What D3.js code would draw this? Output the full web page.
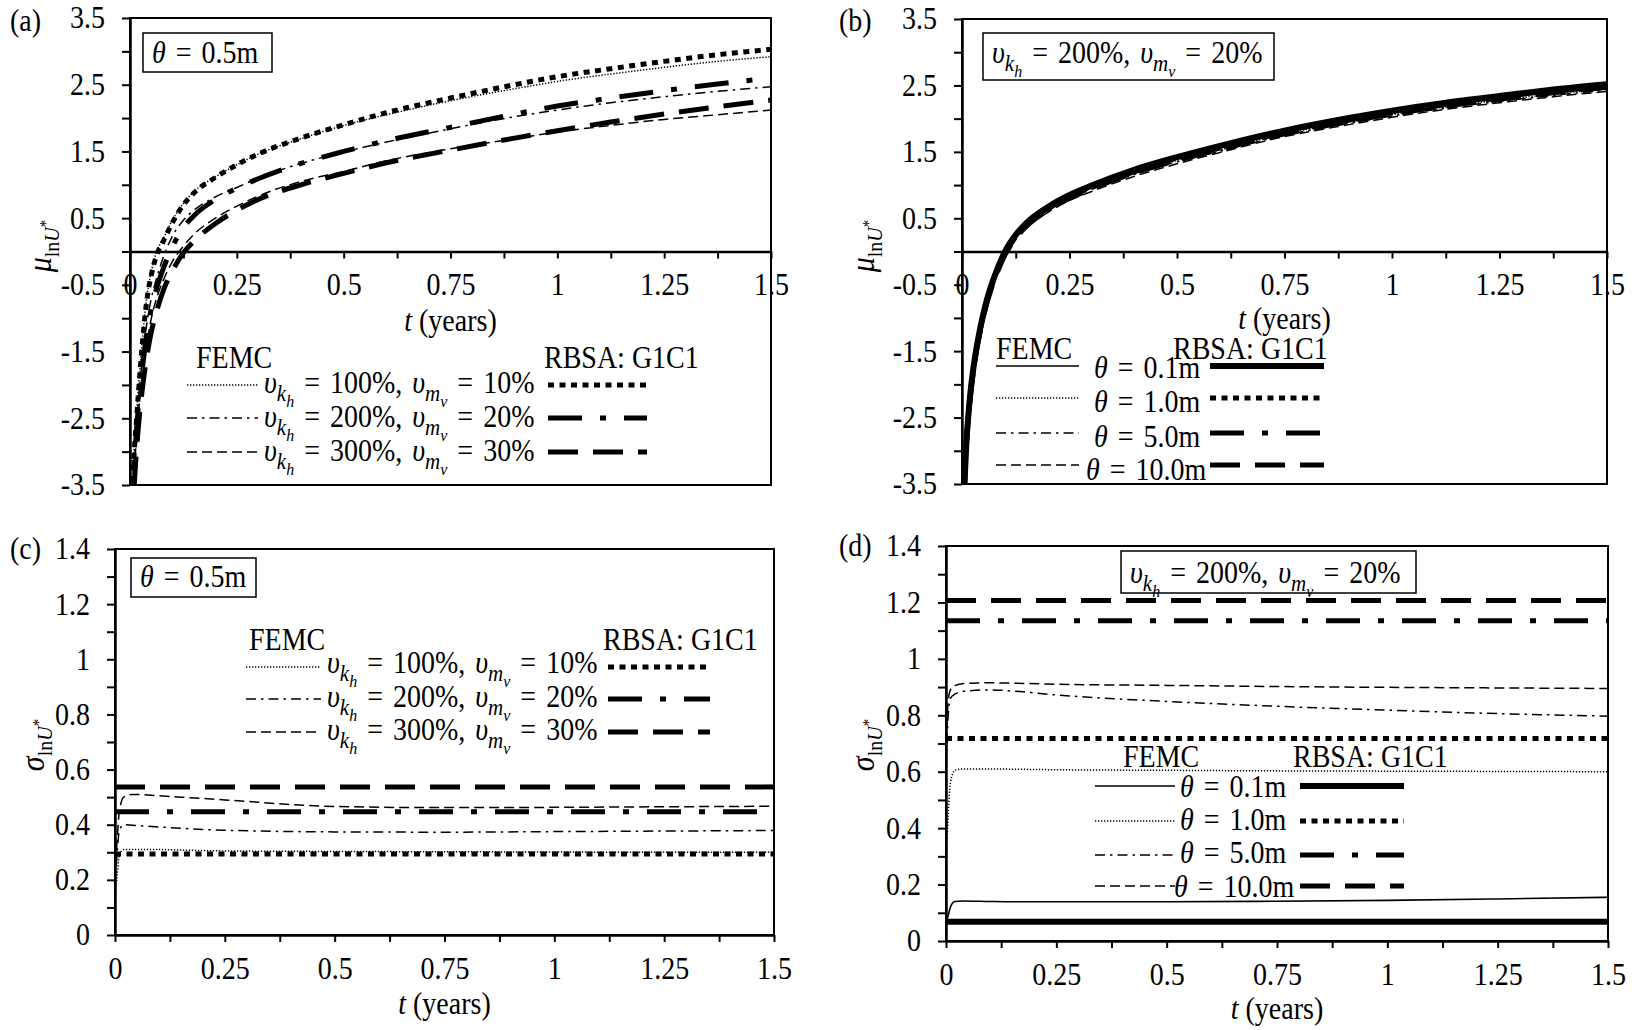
<!DOCTYPE html>
<html>
<head>
<meta charset="utf-8">
<script src="https://cdn.jsdelivr.net/npm/d3@7"></script>
<style>
body { margin: 0; background: #fff; }
svg text { font-family: "Liberation Serif", "Times New Roman", serif; fill: #000; white-space: pre; }
</style>
</head>
<body>
<svg id="chart" width="1632" height="1030"></svg>
<script>
// ---- axis ticks ----
const muTicks = [-3.5, -3, -2.5, -2, -1.5, -1, -0.5, 0, 0.5, 1, 1.5, 2, 2.5, 3, 3.5];
const muLabels = [-3.5, -2.5, -1.5, -0.5, 0.5, 1.5, 2.5, 3.5];
const sigmaTicks = [0, 0.1, 0.2, 0.3, 0.4, 0.5, 0.6, 0.7, 0.8, 0.9, 1, 1.1, 1.2, 1.3, 1.4];
const sigmaLabels = [0, 0.2, 0.4, 0.6, 0.8, 1, 1.2, 1.4];
const tTicks = [0, 0.125, 0.25, 0.375, 0.5, 0.625, 0.75, 0.875, 1, 1.125, 1.25, 1.375, 1.5];
const tLabels = [0, 0.25, 0.5, 0.75, 1, 1.25, 1.5];

// ---- legend labels ----
const covLabels = [["100", "10"], ["200", "20"], ["300", "30"]];
const thetaLabels = ["0.1", "1.0", "5.0", "10.0"];

// ---- (a) and (b): mean of ln U*, time grid in years ----
const tAB = [0.005, 0.01, 0.015, 0.02, 0.03, 0.04, 0.05, 0.06, 0.08, 0.1, 0.125, 0.15, 0.2, 0.25, 0.3, 0.4, 0.5, 0.6, 0.75, 0.9, 1.0, 1.125, 1.25, 1.375, 1.5];

const aFemc100 = [-3.7, -2.9, -2.45, -2.0, -1.25, -0.65, -0.3, -0.05, 0.22, 0.48, 0.72, 0.9, 1.12, 1.3, 1.46, 1.69, 1.89, 2.05, 2.26, 2.44, 2.55, 2.66, 2.76, 2.85, 2.92];
const aFemc200 = [-3.9, -3.1, -2.6, -2.2, -1.55, -1.05, -0.7, -0.45, -0.05, 0.24, 0.47, 0.62, 0.82, 0.96, 1.1, 1.32, 1.49, 1.64, 1.84, 2.02, 2.12, 2.23, 2.32, 2.4, 2.47];
const aFemc300 = [-4.0, -3.3, -2.8, -2.4, -1.8, -1.35, -1.0, -0.75, -0.4, -0.14, 0.08, 0.26, 0.5, 0.68, 0.83, 1.05, 1.2, 1.36, 1.54, 1.69, 1.79, 1.89, 1.98, 2.05, 2.12];
const aRbsa100 = [-3.8, -3.0, -2.55, -2.1, -1.3, -0.7, -0.35, -0.1, 0.18, 0.44, 0.7, 0.88, 1.11, 1.3, 1.46, 1.7, 1.9, 2.08, 2.3, 2.5, 2.62, 2.74, 2.85, 2.95, 3.03];
const aRbsa200 = [-4.0, -3.2, -2.7, -2.3, -1.7, -1.2, -0.85, -0.6, -0.22, 0.08, 0.36, 0.54, 0.78, 0.95, 1.09, 1.32, 1.5, 1.66, 1.86, 2.06, 2.18, 2.3, 2.41, 2.51, 2.6];
const aRbsa300 = [-4.2, -3.5, -3.0, -2.6, -2.0, -1.55, -1.2, -0.95, -0.55, -0.28, -0.02, 0.16, 0.42, 0.62, 0.78, 1.0, 1.17, 1.33, 1.52, 1.7, 1.81, 1.94, 2.06, 2.17, 2.27];

const bFemc01 = [-3.55, -2.85, -2.4, -2.05, -1.55, -1.18, -0.88, -0.63, -0.26, 0.03, 0.27, 0.44, 0.67, 0.84, 0.98, 1.21, 1.4, 1.56, 1.79, 1.97, 2.08, 2.2, 2.3, 2.4, 2.48];
const bFemc10 = [-3.6, -2.9, -2.45, -2.1, -1.59, -1.22, -0.92, -0.67, -0.3, -0.01, 0.23, 0.4, 0.63, 0.81, 0.95, 1.18, 1.37, 1.53, 1.77, 1.95, 2.06, 2.18, 2.28, 2.37, 2.45];
const bFemc50 = [-3.6, -2.9, -2.46, -2.11, -1.6, -1.23, -0.93, -0.68, -0.31, -0.02, 0.22, 0.39, 0.62, 0.8, 0.93, 1.16, 1.35, 1.51, 1.75, 1.93, 2.04, 2.16, 2.26, 2.35, 2.43];
const bFemc100 = [-3.65, -2.95, -2.5, -2.15, -1.63, -1.26, -0.96, -0.71, -0.34, -0.05, 0.19, 0.36, 0.59, 0.77, 0.9, 1.13, 1.32, 1.49, 1.73, 1.91, 2.02, 2.14, 2.24, 2.33, 2.41];
const bRbsa01 = [-3.6, -2.9, -2.45, -2.1, -1.6, -1.23, -0.93, -0.68, -0.3, 0.0, 0.25, 0.43, 0.67, 0.85, 0.99, 1.23, 1.42, 1.59, 1.82, 2.01, 2.12, 2.24, 2.34, 2.44, 2.52];
const bRbsa10 = [-3.6, -2.9, -2.45, -2.11, -1.61, -1.24, -0.94, -0.69, -0.31, -0.01, 0.24, 0.42, 0.66, 0.84, 0.98, 1.22, 1.41, 1.58, 1.81, 2.0, 2.11, 2.23, 2.33, 2.43, 2.51];
const bRbsa50 = [-3.62, -2.92, -2.47, -2.13, -1.63, -1.26, -0.96, -0.71, -0.33, -0.03, 0.22, 0.4, 0.64, 0.82, 0.96, 1.2, 1.39, 1.56, 1.79, 1.98, 2.09, 2.21, 2.31, 2.41, 2.49];
const bRbsa100 = [-3.64, -2.94, -2.49, -2.15, -1.65, -1.28, -0.98, -0.73, -0.35, -0.05, 0.2, 0.38, 0.62, 0.8, 0.94, 1.18, 1.37, 1.54, 1.77, 1.96, 2.07, 2.19, 2.29, 2.39, 2.47];

// ---- (c) and (d): standard deviation of ln U* ----
const tCD = [0, 0.005, 0.01, 0.02, 0.04, 0.1, 0.15, 0.25, 0.5, 0.75, 1.0, 1.25, 1.5];
const tFlat = [0, 1.5];

const cFemc100 = [0.14, 0.22, 0.29, 0.31, 0.31, 0.31, 0.308, 0.305, 0.303, 0.302, 0.301, 0.3, 0.3];
const cFemc200 = [0.17, 0.3, 0.38, 0.4, 0.398, 0.392, 0.387, 0.38, 0.374, 0.373, 0.375, 0.377, 0.379];
const cFemc300 = [0.2, 0.35, 0.45, 0.5, 0.51, 0.505, 0.5, 0.49, 0.466, 0.462, 0.463, 0.465, 0.467];
const cRbsa100 = [0.294, 0.294];
const cRbsa200 = [0.447, 0.447];
const cRbsa300 = [0.537, 0.537];

const dFemc01 = [0.065, 0.09, 0.12, 0.14, 0.142, 0.14, 0.139, 0.139, 0.139, 0.141, 0.144, 0.149, 0.155];
const dFemc10 = [0.28, 0.45, 0.56, 0.605, 0.61, 0.61, 0.609, 0.607, 0.605, 0.603, 0.602, 0.601, 0.6];
const dFemc50 = [0.62, 0.8, 0.86, 0.875, 0.885, 0.89, 0.886, 0.872, 0.849, 0.832, 0.818, 0.806, 0.797];
const dFemc100 = [0.7, 0.85, 0.89, 0.905, 0.913, 0.915, 0.914, 0.91, 0.906, 0.902, 0.899, 0.897, 0.895];
const dRbsa01 = [0.068, 0.068];
const dRbsa10 = [0.718, 0.718];
const dRbsa50 = [1.135, 1.135];
const dRbsa100 = [1.207, 1.207];

// line looks, thin = FEMC, thick = RBSA
const styles = {
    femcSolid: { w: 1.6, dash: null },
    femcDot: { w: 1.5, dash: "1.3,1.7" },
    femcDashDot: { w: 1.5, dash: "10,5,2.5,5" },
    femcDash: { w: 1.5, dash: "10,5" },
    rbsaSolid: { w: 6, dash: null },
    rbsaDot: { w: 5, dash: "6,5.5" },
    rbsaDashDot: { w: 5, dash: "34,18,6,18" },
    rbsaDash: { w: 5, dash: "30,15" }
};

const svg = d3.select("#chart");
const FS = 28;
const STRETCH = 1.1; // the source lettering is a little taller than it is wide

// text made of parts: {t, size, it, shift}
function rich(parent, x, y, parts, anchor, rotate) {
    const text = parent.append("text")
        .attr("x", x)
        .attr("y", y)
        .attr("font-size", FS);
    if (anchor) text.attr("text-anchor", anchor);
    if (rotate) text.attr("transform", `rotate(-90, ${x}, ${y})`);
    let shift = 0;
    parts.forEach(pt => {
        const s = pt.shift || 0;
        const ts = text.append("tspan").text(pt.t).attr("font-size", pt.size || FS);
        if (s !== shift) ts.attr("dy", s - shift);
        if (pt.it) ts.attr("font-style", "italic");
        if (pt.ws) ts.attr("word-spacing", pt.ws);
        shift = s;
    });
    return text;
}

const upsilon = (a, b) => [
    { t: "υ", it: true },
    { t: a, it: true, size: 21, shift: 7 },
    { t: b, it: true, size: 16, shift: 13 }
];
const covText = (kh, mv) => [
    ...upsilon("k", "h"), { t: ` = ${kh}%, `, ws: 3 },
    ...upsilon("m", "v"), { t: ` = ${mv}%`, ws: 3 }
];
const thetaText = v => [{ t: "θ", it: true }, { t: ` = ${v}m`, ws: 3 }];
const yTitle = sym => [
    { t: sym, it: true, size: 30 },
    { t: "ln", size: 20, shift: 7 },
    { t: "U", it: true, size: 20, shift: 7 },
    { t: "*", size: 15, shift: 0 }
];

function drawPanel(p) {
    const x = d3.scaleLinear().domain([0, 1.5]).range([p.left, p.right]);
    const y = d3.scaleLinear().domain(p.yDomain).range([p.bottom, p.top]);
    const g = svg.append("g");

    g.append("clipPath").attr("id", "clip-" + p.id)
        .append("rect")
        .attr("x", p.left).attr("y", p.top)
        .attr("width", p.right - p.left).attr("height", p.bottom - p.top);

    const line = d3.line()
        .x(d => x(d[0]))
        .y(d => y(d[1]))
        .curve(d3.curveMonotoneX);

    p.series.forEach(s => {
        const st = styles[s.style];
        g.append("path")
            .attr("clip-path", `url(#clip-${p.id})`)
            .attr("d", line(s.t.map((t, i) => [t, s.v[i]])))
            .attr("fill", "none")
            .attr("stroke", "#000")
            .attr("stroke-width", st.w)
            .attr("stroke-dasharray", st.dash);
    });

    // frame
    g.append("rect")
        .attr("x", p.left).attr("y", p.top)
        .attr("width", p.right - p.left).attr("height", p.bottom - p.top)
        .attr("fill", "none").attr("stroke", "#000").attr("stroke-width", 2);

    const yAxis = d3.axisLeft(y)
        .tickValues(p.yTicks)
        .tickSize(8).tickSizeOuter(0).tickPadding(17)
        .tickFormat(v => p.yLabels.includes(v) ? String(v) : "");
    const ya = g.append("g").attr("transform", `translate(${p.left},0)`).call(yAxis);

    const xAxis = d3.axisBottom(x)
        .tickValues(tTicks)
        .tickSize(7).tickSizeOuter(0)
        .tickFormat(v => tLabels.includes(v) ? String(v) : "");
    const xa = g.append("g").attr("transform", `translate(0,${y(p.xAt)})`).call(xAxis);
    xa.selectAll(".tick text").attr("y", 44).attr("dy", null);

    [ya, xa].forEach(a => {
        a.attr("font-family", null).attr("font-size", FS);
        a.select(".domain").attr("stroke-width", 2.5);
        a.selectAll(".tick line").attr("stroke-width", 2);
    });

    rich(g, (p.left + p.right) / 2, p.xTitleY, [{ t: "t", it: true }, { t: " (years)" }], "middle");
    rich(g, p.yTitleX, p.yTitleY, yTitle(p.sym), "middle", true);
    g.append("text").attr("x", p.tagX).attr("y", p.tagY).attr("font-size", FS).text(p.tag);

    // annotation box
    g.append("rect")
        .attr("x", p.box[0]).attr("y", p.box[1])
        .attr("width", p.box[2] - p.box[0]).attr("height", p.box[3] - p.box[1])
        .attr("fill", "#fff").attr("stroke", "#000").attr("stroke-width", 1.5);
    rich(g, p.box[0] + 9, p.boxY, p.boxText);

    // legend
    const L = p.legend;
    g.append("text").attr("x", L.femcX).attr("y", L.headY).attr("font-size", FS).text("FEMC");
    g.append("text").attr("x", L.rbsaX).attr("y", L.headY).attr("font-size", FS).text("RBSA: G1C1");
    L.rows.forEach((r, i) => {
        const ts = styles[r.thin], tk = styles[r.thick];
        g.append("line")
            .attr("x1", L.thin[0]).attr("x2", L.thin[1])
            .attr("y1", L.lineY[i]).attr("y2", L.lineY[i])
            .attr("stroke", "#000").attr("stroke-width", ts.w).attr("stroke-dasharray", ts.dash);
        g.append("line")
            .attr("x1", L.thick[0]).attr("x2", L.thick[1])
            .attr("y1", L.lineY[i]).attr("y2", L.lineY[i])
            .attr("stroke", "#000").attr("stroke-width", tk.w).attr("stroke-dasharray", tk.dash);
        rich(g, L.textX[i], L.textY[i], r.label);
    });
}

const covRows = [
    { thin: "femcDot", thick: "rbsaDot", label: covText(...covLabels[0]) },
    { thin: "femcDashDot", thick: "rbsaDashDot", label: covText(...covLabels[1]) },
    { thin: "femcDash", thick: "rbsaDash", label: covText(...covLabels[2]) }
];
const thetaRows = [
    { thin: "femcSolid", thick: "rbsaSolid", label: thetaText(thetaLabels[0]) },
    { thin: "femcDot", thick: "rbsaDot", label: thetaText(thetaLabels[1]) },
    { thin: "femcDashDot", thick: "rbsaDashDot", label: thetaText(thetaLabels[2]) },
    { thin: "femcDash", thick: "rbsaDash", label: thetaText(thetaLabels[3]) }
];

drawPanel({
    id: "a", tag: "(a)", tagX: 10, tagY: 31,
    left: 130, right: 771, top: 18, bottom: 485,
    yDomain: [-3.5, 3.5], yTicks: muTicks, yLabels: muLabels, xAt: 0,
    sym: "μ", yTitleX: 51, yTitleY: 246, xTitleY: 331,
    box: [143, 33, 272, 72], boxY: 63, boxText: thetaText("0.5"),
    series: [
        { t: tAB, v: aFemc100, style: "femcDot" },
        { t: tAB, v: aFemc200, style: "femcDashDot" },
        { t: tAB, v: aFemc300, style: "femcDash" },
        { t: tAB, v: aRbsa100, style: "rbsaDot" },
        { t: tAB, v: aRbsa200, style: "rbsaDashDot" },
        { t: tAB, v: aRbsa300, style: "rbsaDash" }
    ],
    legend: {
        femcX: 196, rbsaX: 544, headY: 368,
        thin: [187, 258], thick: [548, 647], textX: [264, 264, 264],
        lineY: [385, 418, 452], textY: [393, 427, 461], rows: covRows
    }
});

drawPanel({
    id: "b", tag: "(b)", tagX: 839, tagY: 31,
    left: 962, right: 1607, top: 19, bottom: 484,
    yDomain: [-3.5, 3.5], yTicks: muTicks, yLabels: muLabels, xAt: 0,
    sym: "μ", yTitleX: 874, yTitleY: 246, xTitleY: 329,
    box: [983, 33, 1274, 80], boxY: 63, boxText: covText("200", "20"),
    series: [
        { t: tAB, v: bFemc01, style: "femcSolid" },
        { t: tAB, v: bFemc10, style: "femcDot" },
        { t: tAB, v: bFemc50, style: "femcDashDot" },
        { t: tAB, v: bFemc100, style: "femcDash" },
        { t: tAB, v: bRbsa100, style: "rbsaDash" },
        { t: tAB, v: bRbsa50, style: "rbsaDashDot" },
        { t: tAB, v: bRbsa10, style: "rbsaDot" },
        { t: tAB, v: bRbsa01, style: "rbsaSolid" }
    ],
    legend: {
        femcX: 996, rbsaX: 1173, headY: 359,
        thin: [996, 1079], thick: [1210, 1324], textX: [1094, 1094, 1094, 1086],
        lineY: [366, 398, 433, 465], textY: [378, 412, 447, 480], rows: thetaRows
    }
});

drawPanel({
    id: "c", tag: "(c)", tagX: 10, tagY: 559,
    left: 115, right: 774, top: 549, bottom: 935,
    yDomain: [0, 1.4], yTicks: sigmaTicks, yLabels: sigmaLabels, xAt: 0,
    sym: "σ", yTitleX: 44, yTitleY: 745, xTitleY: 1014,
    box: [131, 558, 256, 597], boxY: 587, boxText: thetaText("0.5"),
    series: [
        { t: tCD, v: cFemc100, style: "femcDot" },
        { t: tCD, v: cFemc200, style: "femcDashDot" },
        { t: tCD, v: cFemc300, style: "femcDash" },
        { t: tFlat, v: cRbsa100, style: "rbsaDot" },
        { t: tFlat, v: cRbsa200, style: "rbsaDashDot" },
        { t: tFlat, v: cRbsa300, style: "rbsaDash" }
    ],
    legend: {
        femcX: 249, rbsaX: 603, headY: 650,
        thin: [246, 321], thick: [608, 710], textX: [327, 327, 327],
        lineY: [667, 699, 732], textY: [673, 707, 740], rows: covRows
    }
});

drawPanel({
    id: "d", tag: "(d)", tagX: 839, tagY: 556,
    left: 946, right: 1608, top: 546, bottom: 941,
    yDomain: [0, 1.4], yTicks: sigmaTicks, yLabels: sigmaLabels, xAt: 0,
    sym: "σ", yTitleX: 874, yTitleY: 745, xTitleY: 1019,
    box: [1121, 551, 1416, 593], boxY: 583, boxText: covText("200", "20"),
    series: [
        { t: tCD, v: dFemc01, style: "femcSolid" },
        { t: tCD, v: dFemc10, style: "femcDot" },
        { t: tCD, v: dFemc50, style: "femcDashDot" },
        { t: tCD, v: dFemc100, style: "femcDash" },
        { t: tFlat, v: dRbsa01, style: "rbsaSolid" },
        { t: tFlat, v: dRbsa10, style: "rbsaDot" },
        { t: tFlat, v: dRbsa50, style: "rbsaDashDot" },
        { t: tFlat, v: dRbsa100, style: "rbsaDash" }
    ],
    legend: {
        femcX: 1123, rbsaX: 1293, headY: 767,
        thin: [1095, 1175], thick: [1300, 1404], textX: [1180, 1180, 1180, 1174],
        lineY: [786, 821, 855, 886], textY: [797, 830, 863, 897], rows: thetaRows
    }
});

// stretch every label a little upward about its own baseline
svg.selectAll("text").each(function () {
    const t = d3.select(this);
    const x = +t.attr("x") || 0, y = +t.attr("y") || 0;
    const prev = t.attr("transform") || "";
    t.attr("transform", `${prev} translate(${x},${y}) scale(1,${STRETCH}) translate(${-x},${-y})`);
});
</script>
</body>
</html>
